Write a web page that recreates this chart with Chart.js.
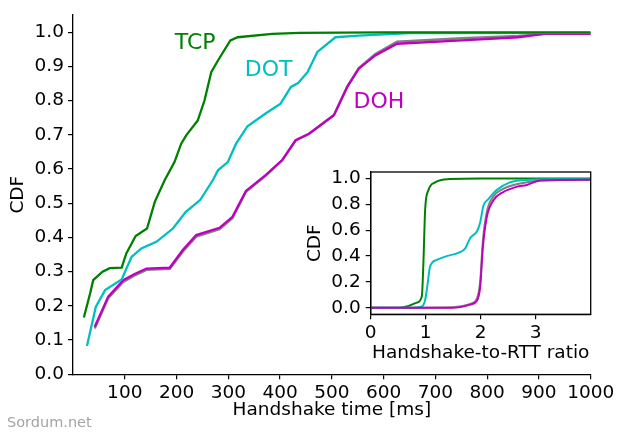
<!DOCTYPE html>
<html>
<head>
<meta charset="utf-8">
<script src="https://cdn.jsdelivr.net/npm/chart.js@4"></script>
<style>
  html, body { margin: 0; padding: 0; background: #fff; }
  #wrap { position: relative; width: 620px; height: 436px; }
  #main { position: absolute; left: 0; top: 0; }
  #inset { position: absolute; left: 300px; top: 165px; }
  #mark { position: absolute; left: 7px; top: 414px; font: 14.5px "DejaVu Sans"; color: #a4a4a4; }
</style>
</head>
<body>
<div id="wrap">
  <canvas id="main" width="620" height="436"></canvas>
  <canvas id="inset" width="300" height="205"></canvas>
  <div id="mark">Sordum.net</div>
</div>
<script>
// main plot: handshake time (ms) vs CDF
const mainXTicks = [100, 200, 300, 400, 500, 600, 700, 800, 900, 1000];
const mainYTicks = [0, 0.1, 0.2, 0.3, 0.4, 0.5, 0.6, 0.7, 0.8, 0.9, 1.0];

const tcpX = [21, 33, 39, 57, 71, 94, 103, 121, 143, 158, 177, 196, 209, 219, 241, 254, 267, 280, 304, 318, 385, 437, 600, 1000];
const tcpY = [0.166, 0.236, 0.275, 0.30, 0.31, 0.312, 0.353, 0.404, 0.426, 0.504, 0.567, 0.62, 0.674, 0.699, 0.742, 0.80, 0.883, 0.917, 0.976, 0.985, 0.995, 0.998, 0.999, 0.999];

const dotX = [27, 44, 62, 94, 113, 132, 161, 193, 218, 246, 270, 280, 299, 315, 337, 372, 401, 421, 435, 453, 472, 507, 552, 650, 1000];
const dotY = [0.083, 0.197, 0.246, 0.277, 0.343, 0.368, 0.387, 0.426, 0.475, 0.51, 0.567, 0.596, 0.62, 0.674, 0.725, 0.762, 0.791, 0.84, 0.851, 0.883, 0.942, 0.985, 0.99, 0.997, 0.998];

const dohX = [42, 68, 97, 119, 142, 187, 212, 238, 283, 308, 334, 372, 404, 430, 456, 504, 530, 552, 584, 626, 751, 860, 911, 1000];
const dohY = [0.139, 0.227, 0.275, 0.293, 0.309, 0.312, 0.363, 0.407, 0.428, 0.46, 0.536, 0.582, 0.626, 0.684, 0.703, 0.757, 0.84, 0.893, 0.932, 0.966, 0.976, 0.985, 0.995, 0.995];
const grayY = [0.134, 0.222, 0.27, 0.289, 0.305, 0.308, 0.358, 0.402, 0.424, 0.456, 0.533, 0.58, 0.625, 0.683, 0.703, 0.758, 0.842, 0.895, 0.936, 0.972, 0.982, 0.989, 0.995, 0.995];

// inset: handshake-to-RTT ratio vs CDF
const insetXTicks = [0, 1, 2, 3];
const insetYTicks = [0, 0.2, 0.4, 0.6, 0.8, 1.0];

const tcpRX = [0, 0.5, 0.65, 0.84, 0.93, 0.96, 0.99, 1.05, 1.17, 1.44, 2, 4];
const tcpRY = [0, 0, 0.01, 0.04, 0.09, 0.37, 0.76, 0.91, 0.97, 0.995, 1.0, 1.0];

const dotRX = [0, 0.7, 0.93, 0.99, 1.03, 1.08, 1.2, 1.38, 1.59, 1.72, 1.81, 1.93, 1.99, 2.05, 2.14, 2.29, 2.53, 2.9, 3.3, 4];
const dotRY = [0, 0, 0.01, 0.06, 0.17, 0.32, 0.37, 0.40, 0.425, 0.46, 0.54, 0.59, 0.66, 0.79, 0.84, 0.91, 0.97, 0.99, 0.993, 0.993];

const dohRX = [0, 1.5, 1.81, 1.93, 1.99, 2.04, 2.11, 2.23, 2.41, 2.65, 2.84, 3.08, 4];
const dohRY = [0, 0, 0.025, 0.055, 0.16, 0.47, 0.70, 0.83, 0.895, 0.935, 0.95, 0.985, 0.99];
const grayRY = [0, 0.005, 0.03, 0.07, 0.2, 0.52, 0.74, 0.86, 0.92, 0.955, 0.97, 0.985, 0.99];

const GREEN = '#008000';
const CYAN = '#00bfbf';
const MAGENTA = '#bf00bf';
const GRAY = '#808080';

Chart.defaults.font.family = '"DejaVu Sans", sans-serif';

const toPoints = (xs, ys) => xs.map((x, i) => ({ x: x, y: ys[i] }));

function line(data, color, width, smooth) {
  return {
    data: data,
    borderColor: color,
    borderWidth: width,
    pointRadius: 0,
    fill: false,
    tension: 0,
    cubicInterpolationMode: smooth ? 'monotone' : 'default'
  };
}

function axis(o) {
  return {
    type: 'linear',
    min: o.min,
    max: o.max,
    afterBuildTicks: s => { s.ticks = o.ticks.map(v => ({ value: v })); },
    afterFit: s => {
      if (o.width) s.width = o.width;
      if (o.height) s.height = o.height;
      s.paddingLeft = s.paddingRight = s.paddingTop = s.paddingBottom = 0;
    },
    grid: { display: true, drawOnChartArea: false, drawTicks: true, tickLength: 5, color: '#000', lineWidth: 1.2 },
    border: { display: true, color: '#000', width: 1.3 },
    ticks: { color: '#000', font: { size: 18.5 }, padding: o.pad, autoSkip: false, maxRotation: 0, callback: o.fmt },
    title: { display: true, text: o.title, color: '#000', font: { size: 18.5 }, padding: o.titlePad }
  };
}

// curve names written next to the curves
const curveNames = {
  id: 'curveNames',
  afterDatasetsDraw(chart) {
    const { ctx, scales } = chart;
    const names = [
      { text: 'TCP', x: 236, y: 0.968, color: GREEN },
      { text: 'DOT', x: 378, y: 0.887, color: CYAN },
      { text: 'DOH', x: 591, y: 0.795, color: MAGENTA }
    ];
    ctx.save();
    ctx.font = '22px "DejaVu Sans"';
    ctx.textAlign = 'center';
    ctx.textBaseline = 'middle';
    names.forEach(n => {
      ctx.fillStyle = n.color;
      ctx.fillText(n.text, scales.x.getPixelForValue(n.x), scales.y.getPixelForValue(n.y));
    });
    ctx.restore();
  }
};

// full frame round the inset
const frame = {
  id: 'frame',
  afterDraw(chart) {
    const a = chart.chartArea;
    const ctx = chart.ctx;
    ctx.save();
    ctx.strokeStyle = '#000';
    ctx.lineWidth = 1.3;
    ctx.strokeRect(a.left, a.top, a.right - a.left, a.bottom - a.top);
    ctx.restore();
  }
};

new Chart(document.getElementById('main'), {
  type: 'line',
  data: {
    datasets: [
      line(toPoints(tcpX, tcpY), GREEN, 2.3, false),
      line(toPoints(dotX, dotY), CYAN, 2.3, false),
      line(toPoints(dohX, dohY), MAGENTA, 2.3, false),
      line(toPoints(dohX, grayY), GRAY, 2.3, false)
    ]
  },
  options: {
    responsive: false,
    animation: false,
    layout: { padding: { top: 15, right: 29.3, left: 0, bottom: 0 } },
    plugins: { legend: { display: false }, tooltip: { enabled: false } },
    scales: {
      x: axis({ min: 0, max: 1000, ticks: mainXTicks, height: 61.7, pad: 3, fmt: v => String(v),
                title: 'Handshake time [ms]', titlePad: { top: 0, bottom: 15 } }),
      y: axis({ min: 0, max: 1.05, ticks: mainYTicks, width: 73, pad: 4, fmt: v => v.toFixed(1),
                title: 'CDF', titlePad: { top: 7.4, bottom: 0 } })
    }
  },
  plugins: [curveNames]
});

new Chart(document.getElementById('inset'), {
  type: 'line',
  data: {
    datasets: [
      line(toPoints(dohRX, dohRY), MAGENTA, 2, true),
      line(toPoints(dotRX, dotRY), CYAN, 2, true),
      line(toPoints(dohRX, grayRY), GRAY, 2, true),
      line(toPoints(tcpRX, tcpRY), GREEN, 2, true)
    ]
  },
  options: {
    responsive: false,
    animation: false,
    layout: { padding: { top: 7, right: 9.3, left: 0, bottom: 0 } },
    plugins: { legend: { display: false }, tooltip: { enabled: false } },
    scales: {
      x: axis({ min: 0, max: 4, ticks: insetXTicks, height: 55.7, pad: 3, fmt: v => String(v),
                title: 'Handshake-to-RTT ratio', titlePad: { top: 0, bottom: 6 } }),
      y: axis({ min: -0.05, max: 1.05, ticks: insetYTicks, width: 70.7, pad: 5, fmt: v => v.toFixed(1),
                title: 'CDF', titlePad: { top: 4, bottom: 0 } })
    }
  },
  plugins: [frame]
});
</script>
</body>
</html>
